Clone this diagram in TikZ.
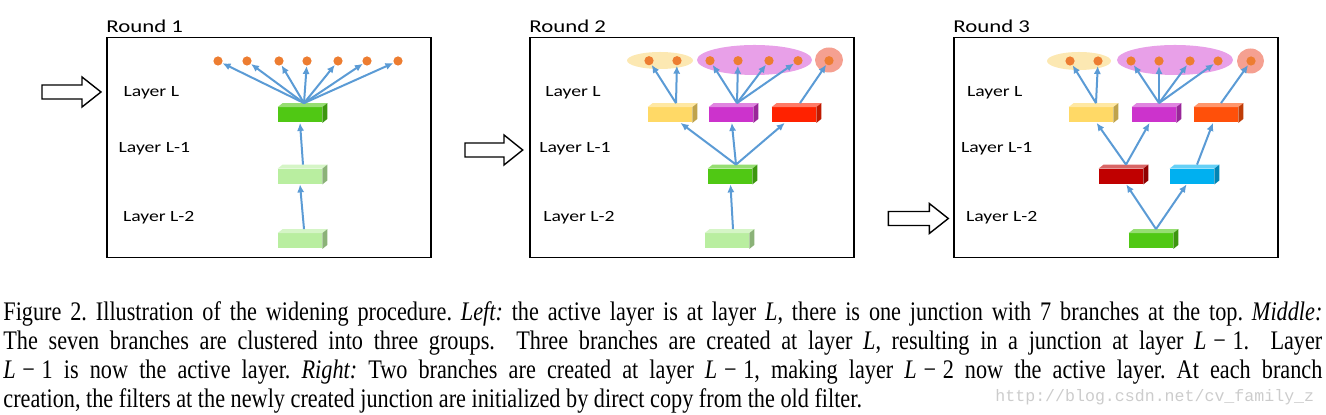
\documentclass[tikz,border=0pt]{standalone}
\usepackage{fontspec}
\setmainfont{Liberation Serif}[FakeStretch=0.83]
\newfontfamily\lblfont{Carlito}[FakeStretch=1.26]
\newfontfamily\wmfont{Liberation Mono}
\usetikzlibrary{arrows.meta,shapes.geometric}

\definecolor{gdk}{RGB}{80,200,20}
\definecolor{glt}{RGB}{185,238,160}
\definecolor{yel}{RGB}{255,217,102}
\definecolor{mag}{RGB}{204,51,204}
\definecolor{rd}{RGB}{255,34,0}
\definecolor{org}{RGB}{255,80,10}
\definecolor{drd}{RGB}{192,0,0}
\definecolor{cyn}{RGB}{0,176,240}
\definecolor{gyel}{RGB}{252,232,178}
\definecolor{gmag}{RGB}{232,160,232}
\definecolor{grd}{RGB}{245,160,145}
\definecolor{dotc}{RGB}{237,125,49}
\definecolor{arrc}{RGB}{91,155,213}

\newcommand\layerm[1]{\mbox{\textit{L}\hspace{.25em}−\hspace{.25em}#1}}

\begin{document}
\begin{tikzpicture}[x=0.5pt,y=-0.5pt,
    frame/.style={draw, line width=.75pt, minimum width=162pt, minimum height=110pt,
      anchor=north west, inner sep=0},
    rnd/.style={font=\lblfont\fontsize{9.05}{10}\selectfont, anchor=base west, inner sep=0},
    lyr/.style={font=\lblfont\fontsize{7.8}{9}\selectfont, anchor=base west, inner sep=0},
    filt/.style={rectangle, inner sep=0, minimum width=22pt, minimum height=7.5pt},
    dot/.style={circle, fill=dotc, inner sep=0, minimum size=4.6pt},
    grp/.style={ellipse, inner sep=0},
    conn/.style={-{Latex[length=4pt,width=3.6pt]}, line width=1pt, arrc},
    hollow/.style={draw, line width=.7pt, fill=white}]
  \useasboundingbox (0,0) rectangle (1326,415);

  % frames and titles
  \foreach \ox/\r in {106/1, 529/2, 953/3}
  {
    \node[frame] (f\r) at (\ox,37) {};
    \node[rnd] (r\r) at (\ox,32.3) {Round \r};
  }
  \foreach \n/\xa/\xb/\xc in {1/123.3/118.3/122.7, 2/545/539/543, 3/966.7/960.7/965.7}
  {
    \node[lyr] (la\n) at (\xa,96.7) {Layer L};
    \node[lyr] (lb\n) at (\xb,153) {Layer L-1};
    \node[lyr] (lc\n) at (\xc,221.7) {Layer L-2};
  }

  % active layer arrows
  \foreach \t/\k/\p/\m in {42/82/101/92, 465/504/522.7/150, 888.3/929.3/948.3/218.5}
    \draw[hollow] (\t,{\m-7}) -- (\k,{\m-7}) -- (\k,{\m-15}) -- (\p,\m)
      -- (\k,{\m+15}) -- (\k,{\m+7}) -- (\t,{\m+7}) -- cycle;

  % clusters
  \node[grp, fill=gyel, minimum width=33pt, minimum height=8.5pt] (e2a) at (660,60.5) {};
  \node[grp, fill=gmag, minimum width=57.5pt, minimum height=15pt] (e2b) at (754.5,60) {};
  \node[grp, fill=grd, minimum width=14pt, minimum height=12.5pt] (e2c) at (829,60) {};
  \node[grp, fill=gyel, minimum width=32pt, minimum height=9pt] (e3a) at (1079,61) {};
  \node[grp, fill=gmag, minimum width=58pt, minimum height=15pt] (e3b) at (1175,60) {};
  \node[grp, fill=grd, minimum width=13.5pt, minimum height=12.5pt] (e3c) at (1250.5,61) {};

  % branches
  \foreach \x [count=\i] in {218,247,279,307,338,367,398}
    \node[dot] (d1\i) at (\x,61) {};
  \foreach \x [count=\i] in {649,677,710,738,769,798,829}
    \node[dot] (d2\i) at (\x,60.7) {};
  \foreach \x [count=\i] in {1070,1098,1131,1159,1190,1218,1251}
    \node[dot] (d3\i) at (\x,61) {};

  % filters
  \node[filt, fill=gdk] (p1a) at (300,115) {};
  \node[filt, fill=glt] (p1b) at (300,176.5) {};
  \node[filt, fill=glt] (p1c) at (300,241) {};

  \node[filt, fill=yel] (p2a) at (670,115) {};
  \node[filt, fill=mag] (p2b) at (731,115) {};
  \node[filt, fill=rd] (p2c) at (794,115) {};
  \node[filt, fill=gdk] (p2d) at (730,176.5) {};
  \node[filt, fill=glt] (p2e) at (727,241) {};

  \node[filt, fill=yel] (p3a) at (1091,115) {};
  \node[filt, fill=mag] (p3b) at (1154,115) {};
  \node[filt, fill=org] (p3c) at (1216,115) {};
  \node[filt, fill=drd] (p3d) at (1121,176.5) {};
  \node[filt, fill=cyn] (p3e) at (1192,176.5) {};
  \node[filt, fill=gdk] (p3f) at (1151,241) {};

  \foreach \b/\c in {p1a/gdk, p1b/glt, p1c/glt, p2a/yel, p2b/mag, p2c/rd, p2d/gdk, p2e/glt,
      p3a/yel, p3b/mag, p3c/org, p3d/drd, p3e/cyn, p3f/gdk}
  {
    \fill[\c!60!white] (\b.north west) -- ++(5,-4) -- ([shift={(5,-4)}]\b.north east)
      -- (\b.north east) -- cycle;
    \fill[\c!75!black] (\b.north east) -- ++(5,-4) -- ([shift={(5,-4)}]\b.south east)
      -- (\b.south east) -- cycle;
  }

  % connections
  \foreach \i in {1,...,7}
    \draw[conn] ([shift={(4,-4)}]p1a.north) -- (d1\i);
  \draw[conn] ([shift={(3,-4)}]p1b.north) -- (p1a.south);
  \draw[conn] ([shift={(4,-4)}]p1c.north) -- (p1b.south);

  \foreach \s/\t in {p2a/d21, p2a/d22, p2b/d23, p2b/d24, p2b/d25, p2b/d26, p2c/d27,
      p2d/p2a, p2d/p2b, p2d/p2c, p2e/p2d}
    \draw[conn] ([shift={(6,-4)}]\s.north) -- (\t);

  \foreach \s/\t in {p3a/d31, p3a/d32, p3b/d33, p3b/d34, p3b/d35, p3b/d36, p3c/d37,
      p3d/p3a, p3d/p3b, p3e/p3c, p3f/p3d, p3f/p3e}
    \draw[conn] ([shift={(5,-4)}]\s.north) -- (\t);

  % caption
  \node[anchor=base west, inner sep=0] (cap) at (3,321) {\parbox[t]{659.5pt}{%
    \fontsize{13.4}{14.35}\selectfont\tolerance=9999\frenchspacing
    Figure 2. Illustration of the widening procedure. \textit{Left:} the active layer
    is at layer \textit{L}, there is one junction with 7 branches at the top.
    \textit{Middle:}\linebreak
    The seven branches are clustered into three groups.\ \ Three branches are created at
    layer \textit{L}, resulting in a junction at layer \layerm{1}.\ \ Layer\linebreak
    \layerm{1} is now the active layer. \textit{Right:} Two branches are created at
    layer \layerm{1}, making layer \layerm{2} now the active layer. At each
    branch\linebreak
    creation, the filters at the newly created junction are initialized by direct copy
    from the old filter.}};
  \node[anchor=base west, inner sep=0, text=black!20, font=\wmfont\fontsize{8.3}{9}\selectfont]
    (wm) at (995,402) {http://blog.csdn.net/cv\_family\_z};
\end{tikzpicture}
\end{document}
